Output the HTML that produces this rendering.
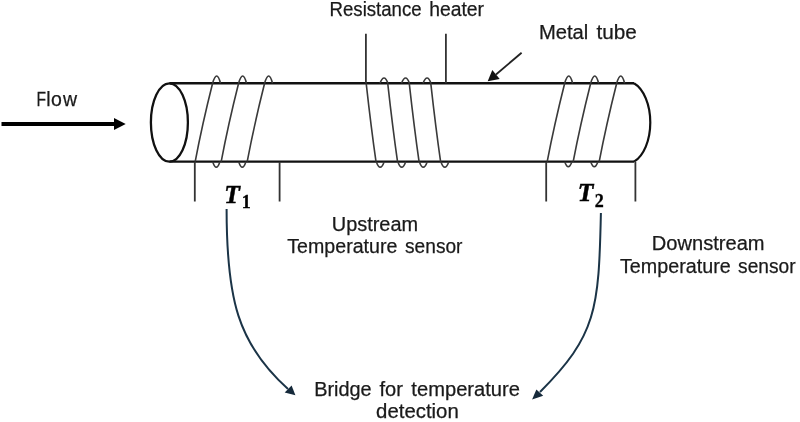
<!DOCTYPE html>
<html><head><meta charset="utf-8">
<style>
html,body{margin:0;padding:0;background:#fff;width:800px;height:422px;overflow:hidden}
svg{display:block;will-change:transform}
.w text{font-family:"Liberation Sans",sans-serif;fill:#1a1a1a;stroke:#1a1a1a;stroke-width:0.25px}
.m{font-family:"Liberation Serif",serif;font-weight:bold;font-style:italic;fill:#000}
.s{font-family:"Liberation Serif",serif;font-weight:bold;fill:#000}
</style></head>
<body>
<svg width="800" height="422" viewBox="0 0 800 422">
<g fill="none" stroke="#111" stroke-linecap="butt">
  <g stroke-width="2.4">
    <line x1="169.5" y1="83.3" x2="634" y2="83.3"/>
    <line x1="169.5" y1="161.65" x2="634" y2="161.65"/>
    <ellipse cx="169.4" cy="122.47" rx="18.5" ry="39.18" stroke-width="2.3"/>
    <path d="M634,83.3 A24.03,41.38 0 0 1 634,161.65" stroke-width="2.2"/>
  </g>
  <g stroke-width="1.6" stroke="#3a3a3a">
    <path d="M212.6,83.3 Q202.1,125 195.2,161.65 M238.6,83.3 Q228.1,125 221.2,161.65 M264.6,83.3 Q254.1,125 247.2,161.65 M366.2,83.3 Q371.1,127.4 376,161.65 M387.73,83.3 Q392.63,127.4 397.53,161.65 M409.26,83.3 Q414.16,127.4 419.06,161.65 M430.79,83.3 Q435.69,127.4 440.59,161.65 M564.7,83.3 Q554.2,125 547.2,161.65 M590.7,83.3 Q580.2,125 573.2,161.65 M616.7,83.3 Q606.2,125 599.2,161.65"/>
    <path d="M212.6,83.3 Q216.8,68.8 220.5,83.3 M238.6,83.3 Q242.8,68.8 246.5,83.3 M264.6,83.3 Q268.8,68.8 272.5,83.3 M212.7,161.65 Q216.3,172.65 219.9,161.65 M238.7,161.65 Q242.3,172.65 245.9,161.65 M376.3,161.65 Q380.2,172.65 384.2,161.65 M379.93,83.3 Q384.13,72.8 387.93,83.3 M397.83,161.65 Q401.73,172.65 405.73,161.65 M401.46,83.3 Q405.66,72.8 409.46,83.3 M419.36,161.65 Q423.26,172.65 427.26,161.65 M422.99,83.3 Q427.19,72.8 430.99,83.3 M440.89,161.65 Q444.79,172.65 448.79,161.65 M564.7,83.3 Q568.9,68.8 572.6,83.3 M590.7,83.3 Q594.9,68.8 598.6,83.3 M616.7,83.3 Q620.9,68.8 624.6,83.3 M564.7,161.65 Q568.3,171.65 571.9,161.65 M590.7,161.65 Q594.3,171.65 597.9,161.65"/>
  </g>
  <g stroke-width="1.8" stroke="#333">
    <path d="M194.8,161.65 V201.6 M279.6,161.65 V201.6 M546.2,161.65 V201.6 M635.4,161.65 V201.6 M365.9,33.7 V83.3 M445.9,33.7 V83.3"/>
  </g>
  <path d="M521.6,52.7 L496,74.5" stroke="#222" stroke-width="1.8"/>
  <path d="M226.6,209 C226.6,298.6 237.6,343.8 288,389" stroke="#1b3447" stroke-width="2"/>
  <path d="M600.9,213 C598.8,309.7 596.5,335.4 540,392" stroke="#1b3447" stroke-width="2"/>
</g>
<rect x="1.5" y="122" width="113" height="4" fill="#000"/>
<polygon points="114,117.9 125.7,123.9 114,129.9" fill="#000"/>
<polygon points="487.7,81.2 492.3,70 499.7,78.9" fill="#111"/>
<polygon points="295.4,395.3 291.6,385.4 284.7,392.5" fill="#15293a"/>
<polygon points="532.1,399.6 536.4,389.4 543.2,395.8" fill="#15293a"/>
<text class="m" x="224.3" y="202.8" font-size="25.5" stroke="#000" stroke-width="0.5">T</text>
<text class="s" x="241.8" y="208" font-size="18" stroke="#000" stroke-width="0.35">1</text>
<text class="m" x="577.8" y="201.2" font-size="25.5" stroke="#000" stroke-width="0.5">T</text>
<text class="s" x="594.8" y="207.2" font-size="18" stroke="#000" stroke-width="0.35">2</text>

<g class="w" font-size="19.5">
<text x="329.59" y="15.90" textLength="92.03" lengthAdjust="spacingAndGlyphs">Resistance</text>
<text x="429.18" y="15.90" textLength="54.82" lengthAdjust="spacingAndGlyphs">heater</text>
<text x="538.96" y="38.80" textLength="49.30" lengthAdjust="spacingAndGlyphs">Metal</text>
<text x="596.53" y="38.80" textLength="40.32" lengthAdjust="spacingAndGlyphs">tube</text>
<text transform="translate(36.6,105.60) scale(0.8,1)" x="0" y="0">F</text><text x="46.3 51.1 62.9" y="105.60">low</text>
<text x="331.77" y="230.50" textLength="86.34" lengthAdjust="spacingAndGlyphs">Upstream</text>
<text x="287.32" y="253.30" textLength="110.04" lengthAdjust="spacingAndGlyphs">Temperature</text>
<text x="405.05" y="253.30" textLength="57.41" lengthAdjust="spacingAndGlyphs">sensor</text>
<text x="651.79" y="250.25" textLength="112.80" lengthAdjust="spacingAndGlyphs">Downstream</text>
<text x="620.01" y="273.10" textLength="110.72" lengthAdjust="spacingAndGlyphs">Temperature</text>
<text x="738.11" y="273.10" textLength="57.40" lengthAdjust="spacingAndGlyphs">sensor</text>
<text x="314.18" y="395.80" textLength="57.49" lengthAdjust="spacingAndGlyphs">Bridge</text>
<text x="379.52" y="395.80" textLength="23.43" lengthAdjust="spacingAndGlyphs">for</text>
<text x="411.39" y="395.80" textLength="108.58" lengthAdjust="spacingAndGlyphs">temperature</text>
<text x="376.09" y="417.70" textLength="82.71" lengthAdjust="spacingAndGlyphs">detection</text>
</g>
</svg>
</body></html>
